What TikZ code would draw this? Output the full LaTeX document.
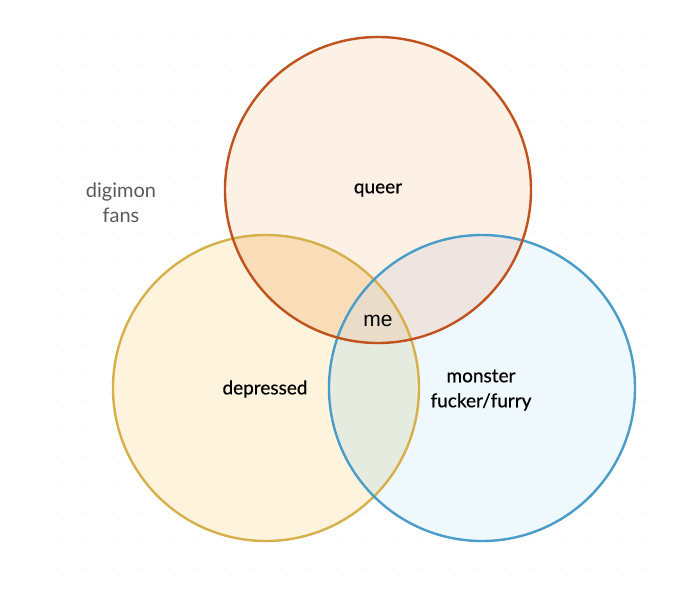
\documentclass[tikz,border=0pt]{standalone}
\usepackage{fontspec}
\setmainfont{Lato}
\newfontfamily\lblfont{Lato}[FakeBold=0.5]
\newfontfamily\mefont{Liberation Sans}
\definecolor{qline}{HTML}{C0521E}
\definecolor{dline}{HTML}{D6B04B}
\definecolor{mline}{HTML}{4B9DC9}
\definecolor{qfill}{HTML}{FDF1E6}
\definecolor{dfill}{HTML}{FEF4DE}
\definecolor{mfill}{HTML}{EFF9FD}
\definecolor{qdfill}{HTML}{F9DDB8}
\definecolor{qmfill}{HTML}{EEE5E0}
\definecolor{dmfill}{HTML}{E6EBDF}
\definecolor{allfill}{HTML}{E9DCC9}
\definecolor{dotc}{HTML}{F5F5F5}
\definecolor{graytext}{HTML}{5A5A5A}
\tikzset{
  ring/.style={line width=2.4pt},
  lbl/.style={font=\lblfont\fontsize{19}{25}\selectfont, text=black, align=center},
}
\begin{document}
\begin{tikzpicture}[x=1pt,y=-1pt]
\useasboundingbox (0,0) rectangle (680,590);
\fill[white] (0,0) rectangle (680,590);
% faint dot grid
\foreach \i in {0,...,21} {\foreach \j in {0,...,19} {
  \fill[dotc] (57+28*\i,37+28*\j) circle (1.2);
}}
\coordinate (Q) at (378,190);
\coordinate (D) at (266,388);
\coordinate (M) at (482,388);
\def\R{153}
% single fills
\fill[qfill] (Q) circle (\R);
\fill[dfill] (D) circle (\R);
\fill[mfill] (M) circle (\R);
% pairwise
\begin{scope}\clip (Q) circle (\R); \fill[qdfill] (D) circle (\R); \end{scope}
\begin{scope}\clip (Q) circle (\R); \fill[qmfill] (M) circle (\R); \end{scope}
\begin{scope}\clip (D) circle (\R); \fill[dmfill] (M) circle (\R); \end{scope}
\begin{scope}\clip (Q) circle (\R); \clip (D) circle (\R); \fill[allfill] (M) circle (\R); \end{scope}
% outlines
\draw[ring, dline] (D) circle (\R);
\draw[ring, mline] (M) circle (\R);
\draw[ring, qline] (Q) circle (\R);
% labels
\node[lbl] (lq) at (378,190) {queer};
\node[lbl] (ld) at (265,389) {depressed};
\node[lbl] (lm) at (481,390) {monster\\fucker/furry};
\node[lbl, font=\mefont\fontsize{21}{25}\selectfont] (lme) at (378,321) {me};
\node[lbl, text=graytext, font=\fontsize{20}{25}\selectfont] (ldg) at (121,203) {digimon\\fans};
\end{tikzpicture}
\end{document}
